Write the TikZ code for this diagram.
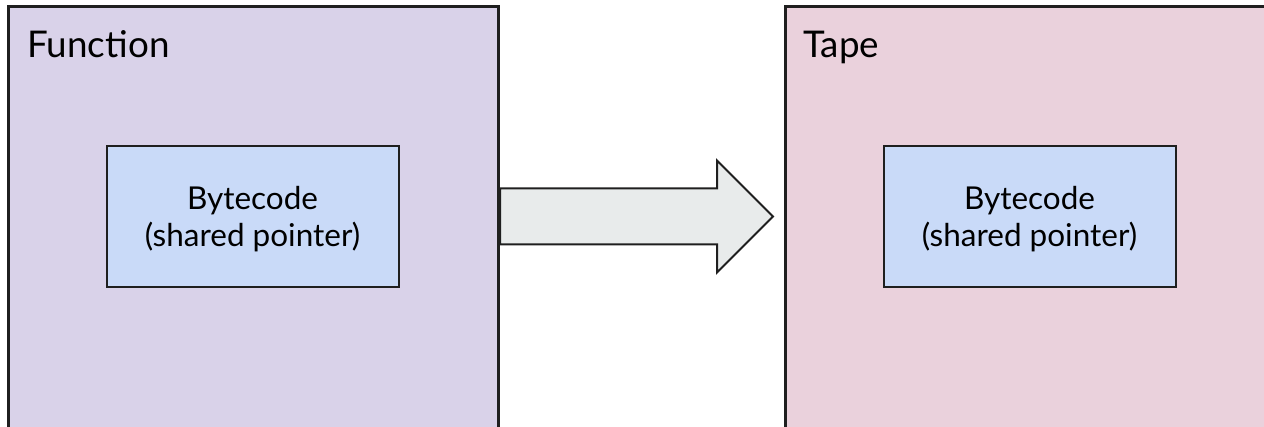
\documentclass[tikz,border=0pt]{standalone}
\usepackage{fontspec}
\setmainfont{Lato}
\usetikzlibrary{calc}

\definecolor{fnfill}{HTML}{D9D2E9}
\definecolor{tapefill}{HTML}{EAD1DC}
\definecolor{codefill}{HTML}{C9DAF8}
\definecolor{arrowfill}{HTML}{E8EBEB}
\definecolor{edgecol}{HTML}{1F1F1F}

\tikzset{
  panel/.style={draw=edgecol, line width=1.5pt, anchor=north west,
    minimum width=245pt, minimum height=260pt, inner sep=0pt},
  paneltitle/.style={anchor=base west, inner sep=0pt,
    font=\fontsize{18.4}{22}\selectfont},
  codebox/.style={draw=edgecol, line width=1pt, fill=codefill,
    minimum width=146pt, minimum height=70.5pt, align=center, text height=33pt,
    font=\fontsize{15.75}{18.5}\selectfont},
  blockarrow/.style={draw=edgecol, line width=1pt, fill=arrowfill, line join=miter}
}

\begin{document}
\begin{tikzpicture}[x=0.5pt,y=-0.5pt]

    \useasboundingbox (0,0) rectangle (1264,427);
    \clip (0,0) rectangle (1264,427);

    \node[panel, fill=fnfill] (fn) at (7,5) {};
    \node[paneltitle] (fntitle) at (27,58) {Function};
    \node[codebox] (fncode) at (252.5,216.5) {Bytecode\\(shared pointer)};

    \begin{scope}[xshift=388.5pt]
      \node[panel, fill=tapefill] (tape) at (7,5) {};
      \node[paneltitle] (tapetitle) at (26,58) {Tape};
      \node[codebox] (tapecode) at (252.5,216.5) {Bytecode\\(shared pointer)};
    \end{scope}

    \coordinate (tail) at (fncode -| fn.east);
    \coordinate (tip) at ($(tapecode -| tape.west)+(-11,0)$);

    \draw[blockarrow] ($(tail)+(0,-28)$) -- ($(tip)+(-56,-28)$) -- ($(tip)+(-56,-56)$)
      -- (tip) -- ($(tip)+(-56,56)$) -- ($(tip)+(-56,28)$) -- ($(tail)+(0,28)$) -- cycle;

  \end{tikzpicture}
\end{document}
